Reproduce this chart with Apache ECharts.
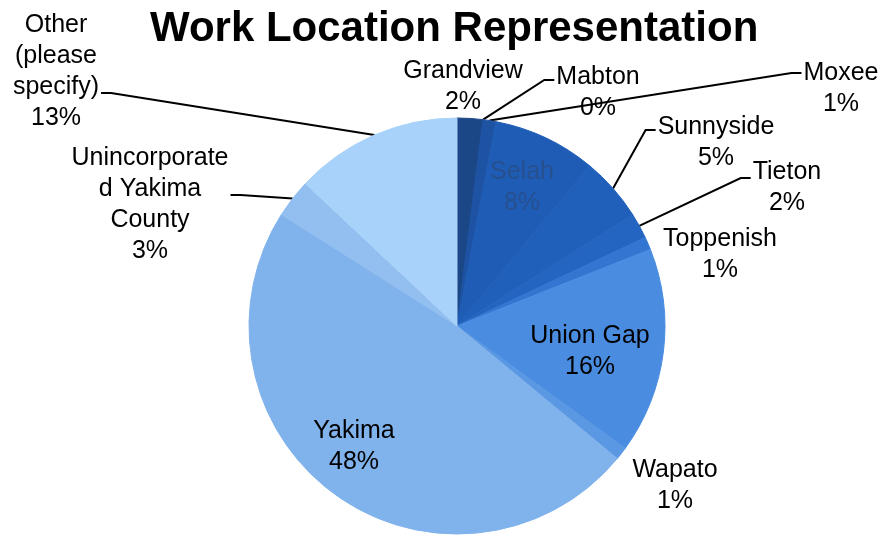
<!DOCTYPE html>
<html>
<head>
<meta charset="utf-8">
<script src="https://cdn.jsdelivr.net/npm/echarts@6/dist/echarts.min.js"></script>
<style>
  html, body { margin: 0; padding: 0; background: #fff; }
  #main { width: 883px; height: 537px; }
</style>
</head>
<body>
<div id="main"></div>
<script>
// slices, clockwise from 12 o'clock
const categories = ['Grandview', 'Mabton', 'Moxee', 'Selah', 'Sunnyside', 'Tieton', 'Toppenish',
  'Union Gap', 'Wapato', 'Yakima', 'Unincorporate\nd Yakima\nCounty', 'Other\n(please\nspecify)']
const percents = [2, 0, 1, 8, 5, 2, 1, 16, 1, 48, 3, 13]

const sliceColors = ['#1c4787', '#1e4f9c', '#1e52a3', '#1e5cb5', '#2060bb', '#2465c1', '#3376d2',
  '#4a8de0', '#5b98e3', '#80b2ec', '#92bef0', '#a8d2fa']

// label centre x, y; side the leader line enters from; line offset from label centre
const labelPlace = [
  [463, 87],
  [598, 93, 'left', -13],
  [841, 89, 'left', -16],
  [522, 188],
  [716, 143, 'left', -13],
  [787, 188, 'left', -10],
  [720, 255],
  [590, 352],
  [675, 486],
  [354, 447],
  [150, 205, 'right', -10],
  [56, 72, 'right', 21]
]

const chartDom = document.getElementById('main')
const myChart = echarts.init(chartDom)

const pieData = categories.map((name, i) => {
  const item = {
    name: name,
    value: percents[i],
    // border in the slice's own colour hides the white seams
    itemStyle: { color: sliceColors[i], borderColor: sliceColors[i], borderWidth: 1 }
  }
  if (!labelPlace[i][2]) item.labelLine = { show: false }
  if (name === 'Selah') item.label = { color: '#27508f' }
  return item
})

var option = {
  animation: false,
  title: {
    text: 'Work Location Representation',
    left: 145,
    top: 3,
    textStyle: {
      fontFamily: 'Liberation Sans, Arial, sans-serif',
      fontSize: 42,
      fontWeight: 'bold',
      color: '#000'
    }
  },
  series: [
    {
      type: 'pie',
      center: [457, 326],
      radius: 208,
      startAngle: 90,
      clockwise: true,
      avoidLabelOverlap: false,
      emphasis: { disabled: true },
      label: {
        show: true,
        position: 'outside',
        formatter: '{b}\n{c}%',
        fontFamily: 'Liberation Sans, Arial, sans-serif',
        fontSize: 25,
        lineHeight: 31,
        color: '#000',
        align: 'center'
      },
      labelLine: {
        show: true,
        length: 10,
        length2: 10,
        smooth: false,
        lineStyle: { color: '#000', width: 2 }
      },
      labelLayout: function (params) {
        const p = labelPlace[params.dataIndex]
        const res = { x: p[0], y: p[1], align: 'center', verticalAlign: 'middle' }
        if (p[2] && params.labelLinePoints) {
          const w = params.labelRect.width
          const ey = p[1] + p[3]
          const ex = p[2] === 'left' ? p[0] - w / 2 - 2 : p[0] + w / 2 + 2
          const bx = p[2] === 'left' ? ex - 10 : ex + 10
          res.labelLinePoints = [params.labelLinePoints[0], [bx, ey], [ex, ey]]
        }
        return res
      },
      data: pieData
    }
  ]
}
option && myChart.setOption(option)
</script>
</body>
</html>
